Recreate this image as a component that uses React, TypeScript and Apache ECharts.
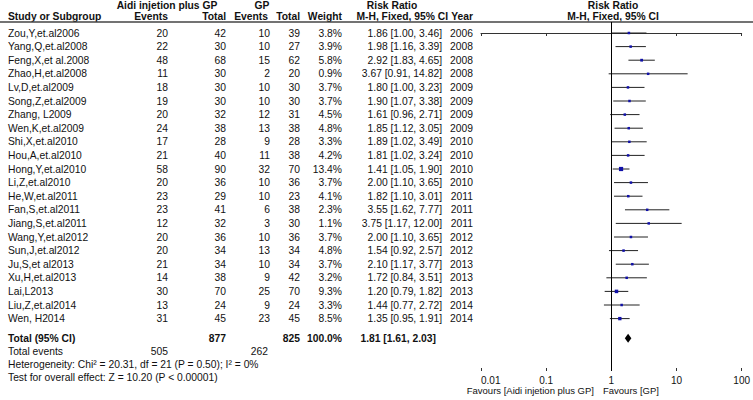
import React, { useEffect, useRef } from "react";
import * as echarts from "echarts";

const studies = ["Zou,Y,et.al2006","Yang,Q,et.al2008","Feng,X,et al.2008","Zhao,H,et.al2008","Lv,D,et.al2009","Song,Z,et.al2009","Zhang, L2009","Wen,K,et.al2009","Shi,X,et.al2010","Hou,A,et.al2010","Hong,Y,et.al2010","Li,Z,et.al2010","He,W,et.al2011","Fan,S,et.al2011","Jiang,S,et.al2011","Wang,Y,et.al2012","Sun,J,et.al2012","Ju,S,et al2013","Xu,H,et.al2013","Lai,L2013","Liu,Z,et.al2014","Wen, H2014"];
const aidiEvents = [20,22,48,11,18,19,20,24,17,21,58,20,23,23,12,20,20,21,14,30,13,31];
const aidiTotal = [42,30,68,30,30,30,32,38,28,40,90,36,29,41,32,36,34,34,38,70,24,45];
const gpEvents = [10,10,15,2,10,10,12,13,9,11,32,10,10,6,3,10,13,10,9,25,9,23];
const gpTotal = [39,27,62,20,30,30,31,38,28,38,70,36,23,38,30,36,34,34,42,70,24,45];
const weights = [3.8,3.9,5.8,0.9,3.7,3.7,4.5,4.8,3.3,4.2,13.4,3.7,4.1,2.3,1.1,3.7,4.8,3.7,3.2,9.3,3.3,8.5];
const rr = [1.86,1.98,2.92,3.67,1.80,1.90,1.61,1.85,1.89,1.81,1.41,2.00,1.82,3.55,3.75,2.00,1.54,2.10,1.72,1.20,1.44,1.35];
const lo = [1.00,1.16,1.83,0.91,1.00,1.07,0.96,1.12,1.02,1.02,1.05,1.10,1.10,1.62,1.17,1.10,0.92,1.17,0.84,0.79,0.77,0.95];
const hi = [3.46,3.39,4.65,14.82,3.23,3.38,2.71,3.05,3.49,3.24,1.90,3.65,3.01,7.77,12.00,3.65,2.57,3.77,3.51,1.82,2.72,1.91];
const years = [2006,2008,2008,2008,2009,2009,2009,2009,2010,2010,2010,2010,2011,2011,2011,2012,2012,2013,2013,2013,2014,2014];

const totalRR = 1.81;
const totalLo = 1.61;
const totalHi = 2.03;
const totalAidiEvents = 505;
const totalAidi = 877;
const totalGpEvents = 262;
const totalGp = 825;
const totalWeight = "100.0%";
const heterogeneity = "Heterogeneity: Chi² = 20.31, df = 21 (P = 0.50); I² = 0%";
const overallTest = "Test for overall effect: Z = 10.20 (P < 0.00001)";
const tickLabels = ["0.01", "0.1", "1", "10", "100"];
const favoursLeft = "Favours [Aidi injetion plus GP]";
const favoursRight = "Favours [GP]";

const ROW0 = 33;
const ROWH = 13.6;
const TOTAL_ROW = 22.45;
const GRID_TOP = 22;
const AXIS_Y = 371;
const FONT = "Liberation Sans, Arial, sans-serif";
const FS = 10.3;
const TXT = "#111";

function rowY(i: number) {
  return ROW0 + ROWH * i;
}

export default function App() {
  const ref = useRef<HTMLDivElement>(null);
  useEffect(() => {
    if (!ref.current) return;
    const chart = echarts.init(ref.current, null, { renderer: "svg" });
    const yMin = -(ROW0 - GRID_TOP) / ROWH;
    const yMax = yMin + (AXIS_Y - GRID_TOP) / ROWH;

    const texts: any[] = [];
    const t = (text: string, x: number, y: number, align: string, bold = false, size = FS) => {
      texts.push({
        type: "text",
        x,
        y,
        silent: true,
        style: {
          text,
          fill: TXT,
          font: `${bold ? "bold " : ""}${size}px ${FONT}`,
          textAlign: align,
          textVerticalAlign: "middle",
        },
      });
    };
    // headers
    t("Aidi injetion plus GP", 167, 5, "center", true);
    t("GP", 262, 5, "center", true);
    t("Risk Ratio", 392, 5, "center", true);
    t("Risk Ratio", 613, 5, "center", true);
    t("Study or Subgroup", 8, 16, "left", true);
    t("Events", 168, 16, "right", true);
    t("Total", 226, 16, "right", true);
    t("Events", 268, 16, "right", true);
    t("Total", 300, 16, "right", true);
    t("Weight", 342, 16, "right", true);
    t("M-H, Fixed, 95% CI", 448, 16, "right", true);
    t("Year", 473, 16, "right", true);
    t("M-H, Fixed, 95% CI", 613, 16, "center", true);

    studies.forEach((s, i) => {
      const y = rowY(i);
      t(s, 8, y, "left");
      t(String(aidiEvents[i]), 168, y, "right");
      t(String(aidiTotal[i]), 226, y, "right");
      t(String(gpEvents[i]), 270, y, "right");
      t(String(gpTotal[i]), 300, y, "right");
      t(weights[i].toFixed(1) + "%", 342, y, "right");
      t(`${rr[i].toFixed(2)} [${lo[i].toFixed(2)}, ${hi[i].toFixed(2)}]`, 442, y, "right");
      t(String(years[i]), 473, y, "right");
    });
    const ty = rowY(TOTAL_ROW);
    t("Total (95% CI)", 8, ty, "left", true);
    t(String(totalAidi), 226, ty, "right", true);
    t(String(totalGp), 300, ty, "right", true);
    t(totalWeight, 342, ty, "right", true);
    t(`${totalRR.toFixed(2)} [${totalLo.toFixed(2)}, ${totalHi.toFixed(2)}]`, 436, ty, "right", true);
    t("Total events", 8, ty + 13.2, "left");
    t(String(totalAidiEvents), 168, ty + 13.2, "right");
    t(String(totalGpEvents), 268, ty + 13.2, "right");
    t(heterogeneity, 8, ty + 26.2, "left");
    t(overallTest, 8, ty + 39.2, "left");
    t(favoursLeft, 594, 390, "right", false, 9.5);
    t(favoursRight, 603, 390, "left", false, 9.5);

    texts.push({
      type: "line",
      silent: true,
      shape: { x1: 0, y1: GRID_TOP, x2: 753, y2: GRID_TOP },
      style: { stroke: "#444", lineWidth: 1.5 },
    });

    const studyData = studies.map((_, i) => [i, rr[i], lo[i], hi[i], weights[i]]);

    const option: any = {
      animation: false,
      grid: { left: 481, right: 9, top: GRID_TOP, bottom: 400 - AXIS_Y, containLabel: false },
      xAxis: [
        {
          type: "log",
          logBase: 10,
          min: 0.01,
          max: 100,
          interval: 1,
          position: "bottom",
          axisLine: { show: true, lineStyle: { color: "#333", width: 1 } },
          axisTick: { show: true, inside: false, length: 3, lineStyle: { color: "#333" } },
          axisLabel: {
            show: true,
            color: TXT,
            fontSize: 10,
            fontFamily: FONT,
            margin: 4,
            alignMinLabel: "left",
            formatter: (v: number) => tickLabels[Math.round(Math.log10(v)) + 2] ?? "",
          },
          splitLine: { show: false },
        },
        {
          type: "log",
          logBase: 10,
          min: 0.01,
          max: 100,
          interval: 1,
          position: "bottom",
          axisLine: { show: false },
          axisTick: { show: true, inside: true, length: 3, lineStyle: { color: "#333" } },
          axisLabel: { show: false },
          splitLine: { show: false },
        },
      ],
      yAxis: { type: "value", inverse: true, min: yMin, max: yMax, show: false },
      series: [
        {
          type: "custom",
          xAxisIndex: 0,
          data: studyData,
          renderItem: (params: any, api: any) => {
            const i = api.value(0);
            const p = api.coord([api.value(1), i]);
            const pl = api.coord([api.value(2), i]);
            const ph = api.coord([api.value(3), i]);
            const side = Math.max(2.5, 1.15 * Math.sqrt(api.value(4)));
            return {
              type: "group",
              children: [
                {
                  type: "line",
                  shape: { x1: pl[0], y1: p[1], x2: ph[0], y2: p[1] },
                  style: { stroke: "#222", lineWidth: 1 },
                },
                {
                  type: "rect",
                  shape: { x: p[0] - side / 2, y: p[1] - side / 2, width: side, height: side },
                  style: { fill: "#1010A8" },
                },
              ],
            };
          },
          markLine: {
            silent: true,
            symbol: "none",
            label: { show: false },
            lineStyle: { color: "#000", width: 1, type: "solid" },
            data: [{ xAxis: 1 }],
          },
        },
        {
          type: "custom",
          xAxisIndex: 0,
          data: [[TOTAL_ROW, totalRR, totalLo, totalHi]],
          renderItem: (params: any, api: any) => {
            const r = api.value(0);
            const p = api.coord([api.value(1), r]);
            const pl = api.coord([api.value(2), r]);
            const ph = api.coord([api.value(3), r]);
            return {
              type: "polygon",
              shape: { points: [[pl[0], p[1]], [p[0], p[1] - 4.5], [ph[0], p[1]], [p[0], p[1] + 4.5]] },
              style: { fill: "#000" },
            };
          },
        },
      ],
      graphic: texts,
    };
    chart.setOption(option);
    return () => chart.dispose();
  }, []);
  return (
    <div
      ref={ref}
      style={{ position: "fixed", left: 0, top: 0, width: 753, height: 400, background: "#fff" }}
    />
  );
}
